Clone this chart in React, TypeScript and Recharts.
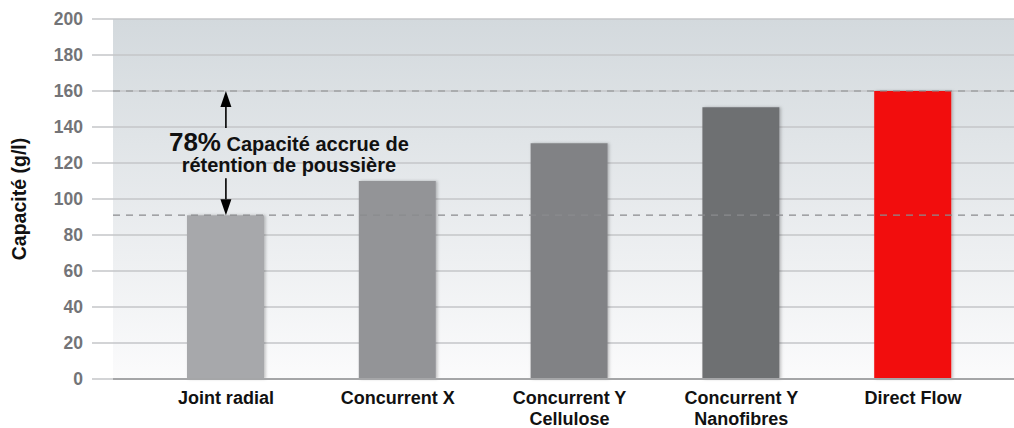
import React from "react";
import {
  BarChart,
  Bar,
  Cell,
  XAxis,
  YAxis,
  CartesianGrid,
  ReferenceLine,
} from "recharts";

const categories = [
  "Joint radial",
  "Concurrent X",
  "Concurrent Y\nCellulose",
  "Concurrent Y\nNanofibres",
  "Direct Flow",
];
const capacity = [91, 110, 131, 151, 160];
const barColors = ["#a7a8ab", "#939497", "#818285", "#6e6f72", "#f20a10"];
const yTicks = [0, 20, 40, 60, 80, 100, 120, 140, 160, 180, 200];
const baseline = 91;
const best = 160;
const gainLabel = "78%";
const gainLine1 = "Capacité accrue de";
const gainLine2 = "rétention de poussière";

const FONT = "'Liberation Sans', Arial, Helvetica, sans-serif";

const data = categories.map((name, i) => ({ name, value: capacity[i] }));

function CategoryTick(props: any) {
  const { x, y, payload } = props;
  const lines = String(payload.value).split("\n");
  return (
    <text
      x={x}
      y={y}
      textAnchor="middle"
      fontFamily={FONT}
      fontWeight="bold"
      fontSize={18}
      fill="#111"
    >
      {lines.map((l, i) => (
        <tspan key={i} x={x} dy={i === 0 ? 17 : 21}>
          {l}
        </tspan>
      ))}
    </text>
  );
}

// double arrow between the two dashed lines, with the caption in the gap
function GainArrow(props: any) {
  const { x1, y1, y2 } = props;
  const x = x1;
  const top = Math.min(y1, y2);
  const bottom = Math.max(y1, y2);
  const head = 16;
  const half = 5.5;
  const tx = x + 63;
  return (
    <g>
      <line x1={x} y1={top + head} x2={x} y2={top + 37} stroke="#000" strokeWidth={1.6} />
      <polygon points={`${x},${top} ${x - half},${top + head} ${x + half},${top + head}`} fill="#000" />
      <line x1={x} y1={bottom - head} x2={x} y2={bottom - 37} stroke="#000" strokeWidth={1.6} />
      <polygon
        points={`${x},${bottom} ${x - half},${bottom - head} ${x + half},${bottom - head}`}
        fill="#000"
      />
      <text x={tx} y={top + 60} textAnchor="middle" fontFamily={FONT} fontWeight="bold" fill="#111">
        <tspan fontSize={26}>{gainLabel}</tspan>
        <tspan fontSize={20}> {gainLine1}</tspan>
      </text>
      <text
        x={tx}
        y={top + 81}
        textAnchor="middle"
        fontFamily={FONT}
        fontWeight="bold"
        fontSize={20}
        fill="#111"
      >
        {gainLine2}
      </text>
    </g>
  );
}

export default function App() {
  return (
    <div style={{ width: 1014, height: 428, background: "#fff" }}>
      <style>{`body{margin:0}`}</style>
      <BarChart
        width={1014}
        height={428}
        data={data}
        margin={{ top: 19, right: 0, left: 0, bottom: 19 }}
        barSize={77}
      >
        <defs>
          <linearGradient id="plotBg" x1="0" y1="0" x2="0" y2="1">
            <stop offset="0%" stopColor="#d3d9dd" />
            <stop offset="100%" stopColor="#fbfbfc" />
          </linearGradient>
          <filter id="barShadow" x="-10%" y="-10%" width="130%" height="120%">
            <feDropShadow dx="1.5" dy="0" stdDeviation="1.5" floodColor="#000" floodOpacity="0.25" />
          </filter>
        </defs>
        <CartesianGrid
          vertical={false}
          x={113}
          width={901}
          fill="url(#plotBg)"
          fillOpacity={1}
          stroke="#c4c6c9"
          strokeWidth={1.5}
        />
        <XAxis
          dataKey="name"
          height={30}
          interval={0}
          padding={{ left: 27, right: 15 }}
          tick={<CategoryTick />}
          tickLine={false}
          axisLine={{ stroke: "#a5a6a8", strokeWidth: 2 }}
        />
        <YAxis
          width={113}
          domain={[0, 200]}
          ticks={yTicks}
          tickSize={21}
          tickMargin={9}
          tickLine={{ stroke: "#c4c6c9", strokeWidth: 1.5 }}
          axisLine={false}
          tick={{ fontFamily: FONT, fontWeight: "bold", fontSize: 17.5, fill: "#737477" }}
          label={{
            value: "Capacité (g/l)",
            angle: -90,
            position: "insideLeft",
            dx: 14,
            style: {
              fontFamily: FONT,
              fontWeight: "bold",
              fontSize: 19.5,
              fill: "#111",
              textAnchor: "middle",
            },
          }}
        />
        <ReferenceLine y={best} stroke="#8a8b8e" strokeWidth={1.2} strokeDasharray="7 6" />
        <ReferenceLine y={baseline} stroke="#8a8b8e" strokeWidth={1.2} strokeDasharray="7 6" />
        <Bar dataKey="value" isAnimationActive={false} style={{ filter: "url(#barShadow)" }}>
          {data.map((d, i) => (
            <Cell key={d.name} fill={barColors[i]} />
          ))}
        </Bar>
        <ReferenceLine
          segment={[
            { x: categories[0], y: best },
            { x: categories[0], y: baseline },
          ]}
          shape={<GainArrow />}
        />
      </BarChart>
    </div>
  );
}
